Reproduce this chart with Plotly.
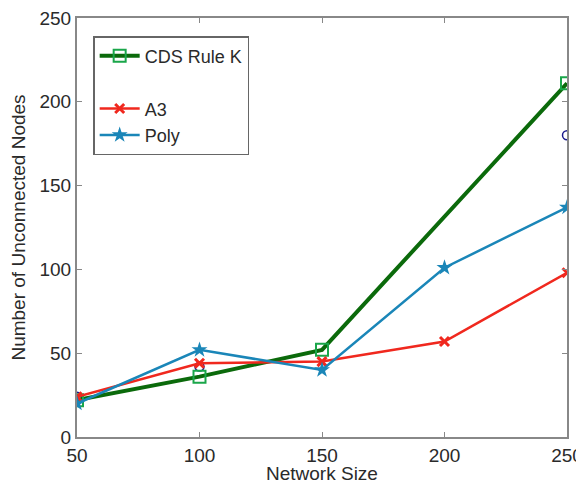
import plotly.graph_objects as go

network_size = [50, 100, 150, 250]
cds_rule_k = [22, 36, 52, 211]
sizes_all = [50, 100, 150, 200, 250]
a3 = [24, 44, 45, 57, 98]
poly = [20, 52, 40, 101, 137]
extra_x = [50, 100, 250]
extra_y = [24, 42, 180]

fig = go.Figure()
fig.add_trace(go.Scatter(x=extra_x, y=extra_y, mode="markers", showlegend=False, hoverinfo="skip",
                         marker=dict(symbol="circle-open", size=9, color="#1a1a8c", line=dict(width=1.5, color="#1a1a8c"))))
fig.add_trace(go.Scatter(x=network_size, y=cds_rule_k, name="CDS Rule K", mode="lines+markers",
                         line=dict(color="#0b6a0b", width=4),
                         marker=dict(symbol="square-open", size=12, color="#1aa64a", line=dict(width=2, color="#1aa64a"))))
fig.add_trace(go.Scatter(x=[None], y=[None], name=" ", mode="lines",
                         line=dict(color="rgba(0,0,0,0)")))
fig.add_trace(go.Scatter(x=sizes_all, y=a3, name="A3", mode="lines+markers",
                         line=dict(color="#f0281e", width=2.5),
                         marker=dict(symbol="x-thin-open", size=9, color="#f0281e", line=dict(width=3, color="#f0281e"))))
fig.add_trace(go.Scatter(x=sizes_all, y=poly, name="Poly", mode="lines+markers",
                         line=dict(color="#1a86b8", width=2.5),
                         marker=dict(symbol="star", size=12, color="#1a86b8")))

fig.update_layout(
    width=576, height=475,
    margin=dict(l=69, r=17, t=10, b=46),
    paper_bgcolor="white", plot_bgcolor="white",
    font=dict(family="Liberation Sans, Arial, sans-serif", size=19, color="#2a2a2a"),
    showlegend=True,
    legend=dict(x=0.033, y=0.957, xanchor="left", yanchor="top",
                bordercolor="#666", borderwidth=1.5, bgcolor="white",
                font=dict(size=18, color="#2a2a2a"), traceorder="normal",
                tracegroupgap=0, itemwidth=40),
    xaxis=dict(range=[50, 250], tickvals=[50, 100, 150, 200, 250], automargin=False,
               ticklabeloverflow="allow",
               showgrid=False, zeroline=False, showline=True, linecolor="#888", linewidth=2,
               mirror="ticks", ticks="inside", ticklen=5, tickcolor="#888"),
    yaxis=dict(range=[0, 250], tickvals=[0, 50, 100, 150, 200, 250], automargin=False,
               ticklabeloverflow="allow",
               showgrid=False, zeroline=False, showline=True, linecolor="#888", linewidth=2,
               mirror="ticks", ticks="inside", ticklen=5, tickcolor="#888",
               title=dict(text="Number of Unconnected Nodes", font=dict(size=19), standoff=16)),
    annotations=[dict(text="Network Size", xref="paper", yref="paper", x=0.5, y=0,
                      xanchor="center", yanchor="top", yshift=-24, showarrow=False,
                      font=dict(size=19, color="#2a2a2a"))],
)

fig.write_html("out.html")
